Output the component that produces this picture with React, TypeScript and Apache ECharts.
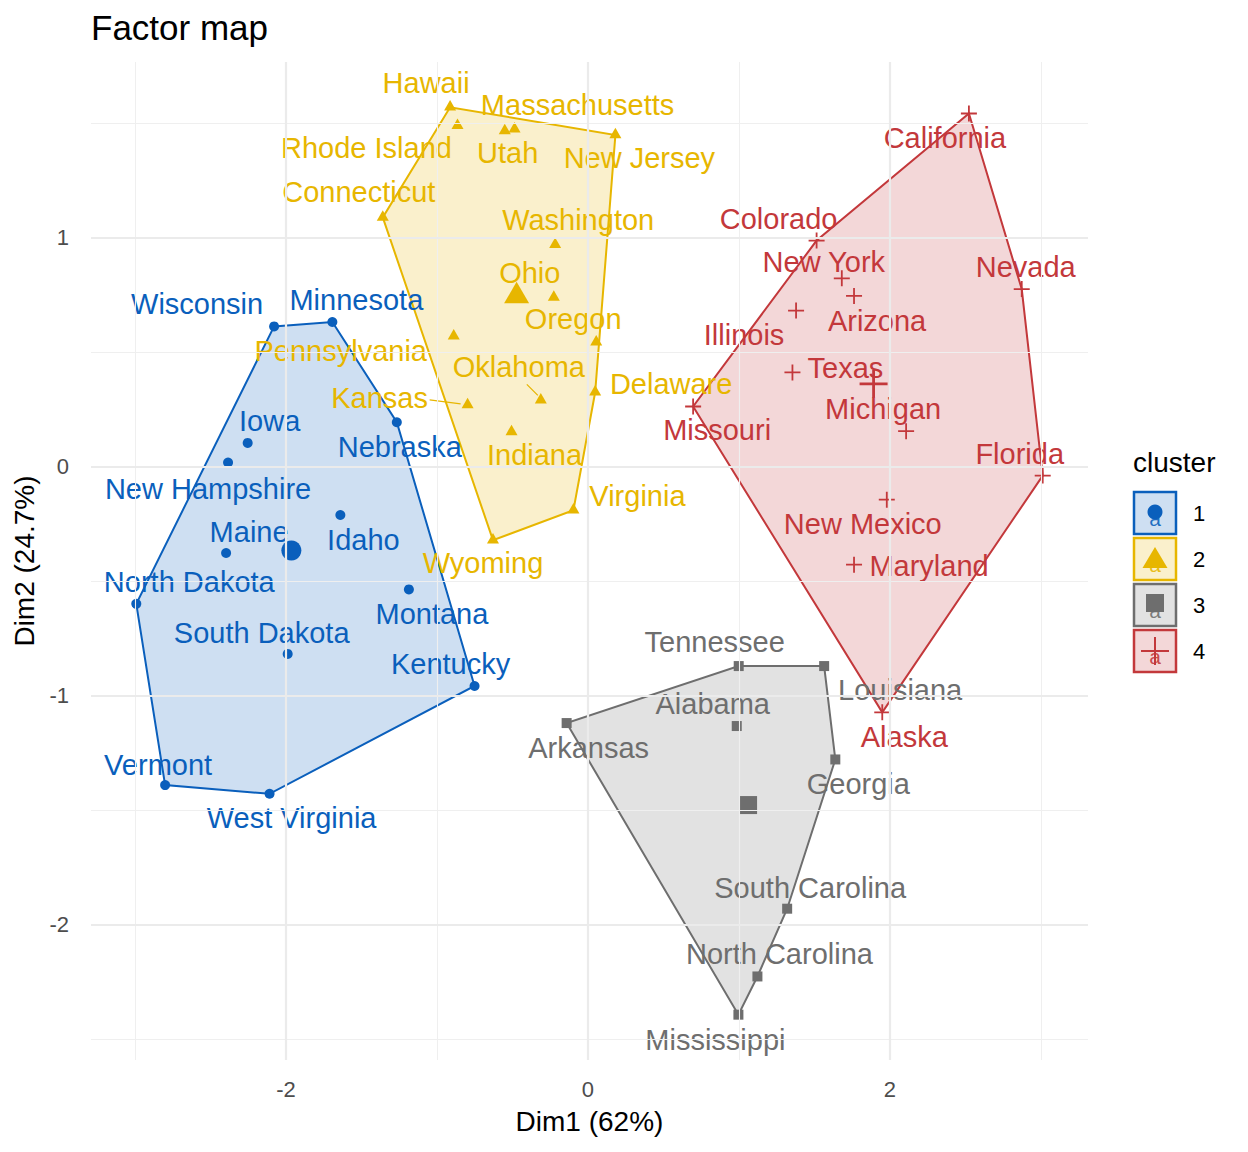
import React, { useEffect, useRef } from "react";
import * as echarts from "echarts";

// ---- Cluster membership and principal-component coordinates ----
const cluster1Names = ["Idaho", "Iowa", "Kentucky", "Maine", "Minnesota", "Montana", "Nebraska", "New Hampshire", "North Dakota", "South Dakota", "Vermont", "West Virginia", "Wisconsin"];
const cluster1Dim1 = [-1.640, -2.254, -0.751, -2.397, -1.693, -1.186, -1.266, -2.384, -2.992, -1.989, -2.801, -2.109, -2.079];
const cluster1Dim2 = [-0.211, 0.104, -0.958, -0.377, 0.632, -0.536, 0.194, 0.018, -0.599, -0.818, -1.391, -1.429, 0.613];

const cluster2Names = ["Connecticut", "Delaware", "Hawaii", "Indiana", "Kansas", "Massachusetts", "New Jersey", "Ohio", "Oklahoma", "Oregon", "Pennsylvania", "Rhode Island", "Utah", "Virginia", "Washington", "Wyoming"];
const cluster2Dim1 = [-1.359, 0.048, -0.913, -0.506, -0.797, -0.486, 0.182, -0.226, -0.312, 0.055, -0.889, -0.864, -0.551, -0.096, -0.217, -0.629];
const cluster2Dim2 = [1.089, 0.325, 1.570, 0.152, 0.270, 1.474, 1.449, 0.739, 0.290, 0.544, 0.570, 1.490, 1.467, -0.190, 0.970, -0.321];

const cluster3Names = ["Alabama", "Arkansas", "Georgia", "Louisiana", "Mississippi", "North Carolina", "South Carolina", "Tennessee"];
const cluster3Dim1 = [0.986, -0.141, 1.639, 1.565, 0.997, 1.123, 1.320, 0.999];
const cluster3Dim2 = [-1.133, -1.120, -1.279, -0.871, -2.394, -2.227, -1.931, -0.871];

const cluster4Names = ["Alaska", "Arizona", "California", "Colorado", "Florida", "Illinois", "Maryland", "Michigan", "Missouri", "Nevada", "New Mexico", "New York", "Texas"];
const cluster4Dim1 = [1.950, 1.763, 2.524, 1.515, 3.013, 1.379, 1.763, 2.108, 0.697, 2.874, 1.980, 1.682, 1.355];
const cluster4Dim2 = [-1.073, 0.746, 1.543, 0.988, -0.039, 0.682, -0.428, 0.155, 0.263, 0.776, -0.144, 0.823, 0.412];

const clusterLabels = ["1", "2", "3", "4"];
const xTicks = [-2, 0, 2];
const yTicks = [-2, -1, 0, 1];
const xMinorGrid = [-3, -1, 1, 3];
const yMinorGrid = [-2.5, -1.5, -0.5, 0.5, 1.5];

// ---- Styling ----
const COLORS = ["#0A5FBC", "#E7B600", "#6E6E6E", "#C3383B"];
const FILLS = ["rgba(10,95,188,0.2)", "rgba(231,182,0,0.2)", "rgba(110,110,110,0.2)", "rgba(195,56,59,0.2)"];
const FONT = "'Liberation Sans', Arial, Helvetica, sans-serif";
const X_RANGE = [-3.292, 3.313];
const Y_RANGE = [-2.592, 1.768];

const PLUS_SMALL = "path://M0,7.1H16V8.9H0Z M7.1,0H8.9V16H7.1Z";
const PLUS_BIG = "path://M0,12.6H28V15.4H0Z M12.6,0H15.4V28H12.6Z";

// marker per cluster: symbol, size and offset for points and for the centre
const POINT_SYMBOLS: any[] = [
  { symbol: "circle", size: 10, offset: [0, 0] },
  { symbol: "triangle", size: [12, 10.5], offset: [0, -2] },
  { symbol: "rect", size: 10, offset: [0, 0] },
  { symbol: PLUS_SMALL, size: 16, offset: [0, 0] },
];
const CENTER_SYMBOLS: any[] = [
  { symbol: "circle", size: 20, offset: [0, 0] },
  { symbol: "triangle", size: [25, 21.5], offset: [0, -4] },
  { symbol: "rect", size: 18, offset: [0, 0] },
  { symbol: PLUS_BIG, size: 28, offset: [0, 0] },
];

// label placement (pixel offset of label centre from its point)
const labelOffsets: Record<string, [number, number]> = {
  Wisconsin: [-77, -22], Minnesota: [24, -22], Iowa: [22, -22], Nebraska: [3, 25],
  "New Hampshire": [-20, 26], Maine: [23, -21], Idaho: [23, 25], "North Dakota": [53, -22],
  Montana: [23, 25], "South Dakota": [-26, -21], Kentucky: [-24, -22], Vermont: [-7, -20],
  "West Virginia": [22, 24],
  Hawaii: [-24, -22], Massachusetts: [63, -22], "Rhode Island": [-91, 24], Utah: [3, 24],
  "New Jersey": [24, 25], Connecticut: [-24, -23], Washington: [23, -23], Ohio: [-24, -23],
  Oregon: [-23, -21], Pennsylvania: [-113, 17], Oklahoma: [-22, -31], Delaware: [76, -6],
  Kansas: [-88, -5], Indiana: [23, 25], Virginia: [64, -12], Wyoming: [-10, 25],
  Tennessee: [-24, -24], Louisiana: [76, 24], Alabama: [-24, -22], Arkansas: [22, 25],
  Georgia: [23, 25], "South Carolina": [23, -21], "North Carolina": [22, -22], Mississippi: [-23, 25],
  California: [-24, 24], Colorado: [-38, -22], "New York": [-18, -16], Nevada: [4, -22],
  Arizona: [23, 25], Illinois: [-52, 24], Texas: [53, -4], Michigan: [-23, -22],
  Missouri: [24, 24], Florida: [-23, -22], "New Mexico": [-24, 24], Maryland: [75, 1],
  Alaska: [22, 25],
};

// connector segments from a displaced label towards its point (pixel offsets)
const leaderSegments: Record<string, [[number, number], [number, number]]> = {
  Kansas: [[-38, -5], [-7, -1]],
  Oklahoma: [[-14, -16], [-3, -5]],
};

type Cluster = { names: string[]; pts: number[][] };

function makeCluster(names: string[], d1: number[], d2: number[]): Cluster {
  return { names, pts: d1.map((x, i) => [x, d2[i]]) };
}

function convexHull(points: number[][]): number[][] {
  const p = points.slice().sort((a, b) => (a[0] === b[0] ? a[1] - b[1] : a[0] - b[0]));
  const cross = (o: number[], a: number[], b: number[]) => (a[0] - o[0]) * (b[1] - o[1]) - (a[1] - o[1]) * (b[0] - o[0]);
  const lower: number[][] = [];
  for (const pt of p) {
    while (lower.length >= 2 && cross(lower[lower.length - 2], lower[lower.length - 1], pt) <= 0) lower.pop();
    lower.push(pt);
  }
  const upper: number[][] = [];
  for (let i = p.length - 1; i >= 0; i--) {
    const pt = p[i];
    while (upper.length >= 2 && cross(upper[upper.length - 2], upper[upper.length - 1], pt) <= 0) upper.pop();
    upper.push(pt);
  }
  upper.pop();
  lower.pop();
  return lower.concat(upper);
}

function centroid(points: number[][]): number[] {
  const n = points.length;
  return [points.reduce((s, p) => s + p[0], 0) / n, points.reduce((s, p) => s + p[1], 0) / n];
}

export default function App() {
  const ref = useRef<HTMLDivElement>(null);

  useEffect(() => {
    if (!ref.current) return;
    const chart = echarts.init(ref.current, undefined, { renderer: "svg" });

    const clusters = [
      makeCluster(cluster1Names, cluster1Dim1, cluster1Dim2),
      makeCluster(cluster2Names, cluster2Dim1, cluster2Dim2),
      makeCluster(cluster3Names, cluster3Dim1, cluster3Dim2),
      makeCluster(cluster4Names, cluster4Dim1, cluster4Dim2),
    ];

    const series: any[] = [];

    // background grid lines
    const major = { color: "#EBEBEB", width: 2.2, type: "solid" };
    const minor = { color: "#EFEFEF", width: 1.1, type: "solid" };
    series.push({
      type: "scatter",
      data: [],
      z: 0,
      silent: true,
      markLine: {
        silent: true,
        symbol: ["none", "none"],
        label: { show: false },
        animation: false,
        data: [
          ...xMinorGrid.map((v) => ({ xAxis: v, lineStyle: minor })),
          ...yMinorGrid.map((v) => ({ yAxis: v, lineStyle: minor })),
          ...xTicks.map((v) => ({ xAxis: v, lineStyle: major })),
          ...yTicks.map((v) => ({ yAxis: v, lineStyle: major })),
        ],
      },
    });

    clusters.forEach((c, k) => {
      const hull = convexHull(c.pts);
      series.push({
        type: "custom",
        z: 1,
        silent: true,
        data: hull,
        renderItem: (params: any, api: any) => {
          if (params.dataIndex !== 0) return;
          const pts = hull.map((p) => api.coord(p));
          return {
            type: "polygon",
            shape: { points: pts },
            style: { fill: FILLS[k], stroke: COLORS[k], lineWidth: 2 },
          };
        },
      });
    });

    // connector segments
    clusters.forEach((c, k) => {
      const items = c.names
        .map((n, i) => ({ n, p: c.pts[i] }))
        .filter((o) => leaderSegments[o.n]);
      if (!items.length) return;
      series.push({
        type: "custom",
        z: 2,
        silent: true,
        data: items.map((o) => o.p),
        renderItem: (params: any, api: any) => {
          const seg = leaderSegments[items[params.dataIndex].n];
          const c0 = api.coord([api.value(0), api.value(1)]);
          return {
            type: "line",
            shape: { x1: c0[0] + seg[0][0], y1: c0[1] + seg[0][1], x2: c0[0] + seg[1][0], y2: c0[1] + seg[1][1] },
            style: { stroke: COLORS[k], lineWidth: 1.2 },
          };
        },
      });
    });

    clusters.forEach((c, k) => {
      const ps = POINT_SYMBOLS[k];
      series.push({
        type: "scatter",
        z: 3,
        symbol: ps.symbol,
        symbolSize: ps.size,
        symbolOffset: ps.offset,
        itemStyle: { color: COLORS[k], opacity: 1 },
        label: {
          show: true,
          position: ["50%", "50%"],
          align: "center",
          verticalAlign: "middle",
          formatter: "{b}",
          color: COLORS[k],
          fontSize: 29,
          fontFamily: FONT,
          textBorderWidth: 0,
        },
        data: c.names.map((n, i) => ({
          name: n,
          value: c.pts[i],
          label: { offset: labelOffsets[n] || [0, -22] },
        })),
      });
      const cs = CENTER_SYMBOLS[k];
      series.push({
        type: "scatter",
        z: 3,
        symbol: cs.symbol,
        symbolSize: cs.size,
        symbolOffset: cs.offset,
        itemStyle: { color: COLORS[k], opacity: 1 },
        data: [centroid(c.pts)],
      });
    });

    // legend drawn as graphic keys
    const legendEls: any[] = [
      {
        type: "text",
        left: 1133,
        top: 448,
        style: { text: "cluster", fontSize: 28, fontFamily: FONT, fill: "#000" },
      },
    ];
    clusterLabels.forEach((lab, k) => {
      const y0 = 491 + 46 * k;
      const cx = 1155;
      const cy = y0 + 22;
      const children: any[] = [
        { type: "rect", shape: { x: 1134, y: y0 + 1, width: 42, height: 42 }, style: { fill: FILLS[k], stroke: COLORS[k], lineWidth: 2.5 } },
        { type: "text", x: cx, y: cy + 5, style: { text: "a", fontSize: 21, fontFamily: FONT, fill: COLORS[k], align: "center", verticalAlign: "middle", opacity: 0.9 } },
      ];
      if (k === 0) children.push({ type: "circle", shape: { cx, cy: cy - 1, r: 7.5 }, style: { fill: COLORS[k] } });
      if (k === 1) children.push({ type: "polygon", shape: { points: [[cx, cy - 12], [cx - 12.5, cy + 9], [cx + 12.5, cy + 9]] }, style: { fill: COLORS[k] } });
      if (k === 2) children.push({ type: "rect", shape: { x: cx - 9, y: cy - 11, width: 18, height: 18 }, style: { fill: COLORS[k] } });
      if (k === 3) {
        children.push({ type: "line", shape: { x1: cx - 14, y1: cy, x2: cx + 14, y2: cy }, style: { stroke: COLORS[k], lineWidth: 2 } });
        children.push({ type: "line", shape: { x1: cx, y1: cy - 14, x2: cx, y2: cy + 14 }, style: { stroke: COLORS[k], lineWidth: 2 } });
      }
      children.push({ type: "text", x: 1193, y: cy, style: { text: lab, fontSize: 22, fontFamily: FONT, fill: "#000", verticalAlign: "middle" } });
      legendEls.push({ type: "group", children });
    });

    chart.setOption({
      animation: false,
      backgroundColor: "#FFFFFF",
      title: {
        text: "Factor map",
        left: 86,
        top: 5,
        textStyle: { fontSize: 35, fontWeight: "normal", color: "#000", fontFamily: FONT },
      },
      grid: { left: 91, top: 62, width: 997, height: 998, containLabel: false },
      xAxis: {
        type: "value",
        min: X_RANGE[0],
        max: X_RANGE[1],
        name: "Dim1 (62%)",
        nameLocation: "middle",
        nameGap: 47,
        nameTextStyle: { fontSize: 28, color: "#000", fontFamily: FONT },
        axisLine: { show: false },
        splitLine: { show: false },
        axisTick: { show: true, customValues: xTicks, length: 7, lineStyle: { color: "#333", width: 2 } },
        axisLabel: { customValues: xTicks, fontSize: 22, color: "#4D4D4D", margin: 18, fontFamily: FONT },
      },
      yAxis: {
        type: "value",
        min: Y_RANGE[0],
        max: Y_RANGE[1],
        name: "Dim2 (24.7%)",
        nameLocation: "middle",
        nameGap: 48,
        nameRotate: 90,
        nameTextStyle: { fontSize: 28, color: "#000", fontFamily: FONT },
        axisLine: { show: false },
        splitLine: { show: false },
        axisTick: { show: true, customValues: yTicks, length: 7, lineStyle: { color: "#333", width: 2 } },
        axisLabel: { customValues: yTicks, fontSize: 22, color: "#4D4D4D", margin: 22, fontFamily: FONT },
      },
      graphic: legendEls,
      series,
    });

    return () => chart.dispose();
  }, []);

  return (
    <div
      ref={ref}
      style={{ position: "fixed", left: 0, top: 0, width: 1248, height: 1152, background: "#fff" }}
    />
  );
}
